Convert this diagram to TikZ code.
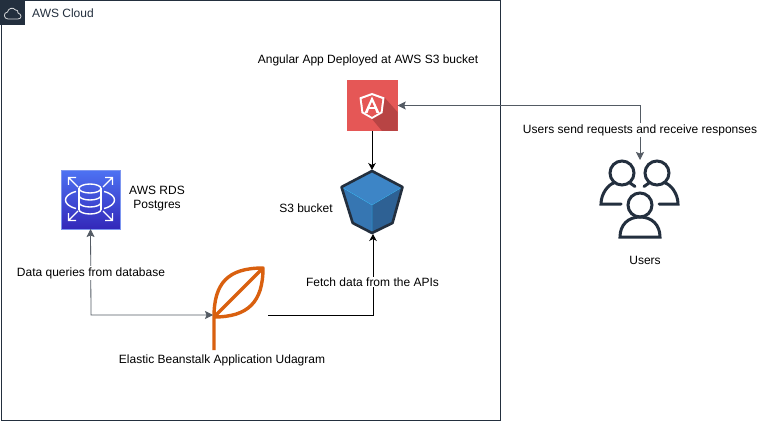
\documentclass[tikz,border=0pt]{standalone}
\usepackage{fontspec}
\setmainfont{Liberation Sans}
\usetikzlibrary{arrows.meta,calc}
\definecolor{awsdark}{HTML}{232F3E}
\definecolor{awsgray}{HTML}{545B64}
\definecolor{leafc}{HTML}{D9600F}
\definecolor{angred}{RGB}{229,87,86}
\tikzset{
  x=1pt,y=-1pt,
  lbl/.style={font=\fontsize{12}{14}\selectfont,text=black,inner sep=1pt,align=center},
  lblw/.style={lbl,fill=white},
  tipg/.tip={Stealth[length=8pt,width=8pt,inset=1.5pt]},
  graytip/.style={-tipg,draw=awsgray,line width=0.8pt},
  graytips/.style={tipg-tipg,draw=awsgray,line width=0.8pt},
  blacktip/.style={-{Stealth[length=7pt,width=7.5pt,inset=2pt]},draw=black,line width=1pt},
  person/.style={draw=awsdark,line width=3pt,line cap=round},
  leafline/.style={draw=leafc,line width=3.4pt,line join=round},
}
\begin{document}
\begin{tikzpicture}
\useasboundingbox (0,0) rectangle (765,422);
\fill[white] (0,0) rectangle (765,422);
% cloud frame
\node[draw=awsdark,line width=0.9pt,minimum width=499.5pt,minimum height=419.5pt,inner sep=0pt,anchor=north west] (frame) at (0.5,0.5) {};
\fill[awsdark] (0,0) rectangle (25,25);
\draw[white!80!awsdark,line width=0.8pt,line join=round] (8,19) .. controls (3.5,19) and (3,12.5) .. (7.5,12)
  .. controls (8,8.5) and (13,6.5) .. (15.5,10) .. controls (17,9.5) and (18.5,11) .. (18,13)
  .. controls (22,14) and (22,19) .. (18,19) -- cycle;
\node[lbl,text=awsdark,anchor=west] (cloudlabel) at (31,13) {AWS Cloud};
% Angular tile
\node[minimum size=51pt,inner sep=0pt,fill=angred] (app) at (372,105.5) {};
\fill[fill={rgb,255:red,184;green,68;blue,68}] (372,119) -- (382,131) -- (397.5,131) -- (397.5,112) -- (384,97) -- cycle;
\fill[white] (372,93) -- (384.5,97.5) -- (382.5,113) -- (372,119) -- (361.5,113) -- (359.5,97.5) -- cycle;
\fill[angred] (372,95.2) -- (382.3,99) -- (380.6,111.8) -- (372,116.8) -- (363.4,111.8) -- (361.7,99) -- cycle;
\fill[white] (372,96.5) -- (379.5,113) -- (376.5,113) -- (375,109) -- (369,109) -- (367.5,113) -- (364.5,113) -- cycle;
\fill[angred] (372,102) -- (374.1,106.8) -- (369.9,106.8) -- cycle;
% S3 bucket
\fill[fill={rgb,255:red,61;green,133;blue,198}] (372,171) -- (402.5,187) -- (372,205) -- (341.5,187) -- cycle;
\fill[fill={rgb,255:red,54;green,118;blue,178}] (341.5,187) -- (372,205) -- (372,233) -- (352.7,223) -- cycle;
\fill[fill={rgb,255:red,46;green,97;blue,148}] (402.5,187) -- (372,205) -- (372,233) -- (392.5,223) -- cycle;
\draw[white!35!blue!40!cyan,line width=0.5pt,opacity=.6] (341.5,187) -- (372,205) -- (402.5,187) (372,205) -- (372,233);
\draw[awsdark,line width=2.6pt,line join=round] (372,171) -- (402.5,187) -- (392.5,223) -- (372,233) -- (352.7,223) -- (341.5,187) -- cycle;
\coordinate (s3top) at (372,170);
\coordinate (s3bot) at (373,234);
% RDS
\node[minimum size=58.5pt,inner sep=0pt,top color={rgb,255:red,77;green,114;blue,243},bottom color={rgb,255:red,51;green,40;blue,185},draw={rgb,255:red,125;green,150;blue,240},line width=0.5pt] (rds) at (90.5,199.5) {};
\begin{scope}[draw=white,line width=1.4pt]
\draw (79,188.5) -- (79,209.5);
\draw (101,188.5) -- (101,209.5);
\draw (90,188.5) ellipse [x radius=11,y radius=4.5];
\draw (79,195.5) arc[start angle=180,end angle=360,x radius=11,y radius=-4.5];
\draw (79,202.5) arc[start angle=180,end angle=360,x radius=11,y radius=-4.5];
\draw (79,209.5) arc[start angle=180,end angle=360,x radius=11,y radius=-4.5];
\draw (76,191.5) .. controls (62,195) and (62,205) .. (76,208.5);
\draw (104,191.5) .. controls (118,195) and (118,205) .. (104,208.5);
\draw (78,187) -- (68.5,177.5) (68.5,185) -- (68.5,177.5) -- (76,177.5);
\draw (103,187) -- (112.5,177.5) (105,177.5) -- (112.5,177.5) -- (112.5,185);
\draw (78,211) -- (68.5,220.5) (68.5,213) -- (68.5,220.5) -- (76,220.5);
\draw (103,211) -- (112.5,220.5) (105,220.5) -- (112.5,220.5) -- (112.5,213);
\end{scope}
% Leaf
\draw[leafline] (214,350) -- (214,317) .. controls (214,283) and (228,268) .. (263,268)
  .. controls (263,302) and (248,317) .. (214,317) -- (263,268);
\coordinate (leafL) at (213,315);
\coordinate (leafR) at (268,315);
% Users
\coordinate (userstop) at (640,160);
\begin{scope}[person]
\draw (622,173) circle (12);
\draw (657,173) circle (12);
\draw (640,205) circle (12);
\draw (621,204) -- (601,204) .. controls (601,193) and (609,184) .. (614,183);
\draw (659,204) -- (678,204) .. controls (678,193) and (670,184) .. (665,183);
\draw (620,237) -- (660,237) .. controls (660,225) and (652,217) .. (640,217) .. controls (628,217) and (620,225) .. (620,237) -- cycle;
\draw (630,183) -- (635,186.5);
\draw (649,183) -- (644,186.5);
\end{scope}
% connectors
\draw[blacktip] (app.south) -- (s3top);
\draw[graytips] (rds.south) -- (91,315) -- (leafL);
\draw[blacktip,line width=0.9pt] (leafR) -- (373,315) -- (s3bot);
\draw[graytips] (app.east) -- (640,105.5) -- (userstop);
% labels
\node[lbl] (t1) at (368,60) {Angular App Deployed at AWS S3 bucket};
\node[lblw] (t2) at (640,130) {Users send requests and receive responses};
\node[lbl] (t3) at (157,199) {AWS RDS\\Postgres};
\node[lbl] (t4) at (306,208) {S3 bucket};
\node[lblw] (t5) at (91,273) {Data queries from database};
\node[lblw] (t6) at (372.5,282) {Fetch data from the APIs};
\node[lbl] (t7) at (222,360) {Elastic Beanstalk Application Udagram};
\node[lbl] (t8) at (645,260) {Users};
\end{tikzpicture}
\end{document}
